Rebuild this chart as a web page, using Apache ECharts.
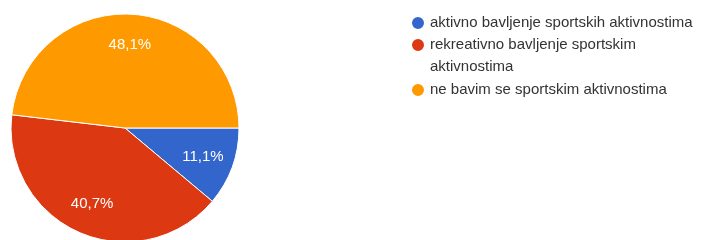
<!DOCTYPE html>
<html>
<head>
<meta charset="utf-8">
<script src="https://cdn.jsdelivr.net/npm/echarts@6/dist/echarts.min.js"></script>
<style>
  html, body { margin: 0; padding: 0; background: #fff; }
  #chart { width: 702px; height: 240px; }
</style>
</head>
<body>
<div id="chart"></div>
<script>
// odgovori iz ankete (broj ispitanika)
const categories = [
  'aktivno bavljenje sportskih aktivnostima',
  'rekreativno bavljenje sportskim aktivnostima',
  'ne bavim se sportskim aktivnostima',
];
const counts = [3, 11, 13];
const colors = ['#3366cc', '#dc3912', '#ff9900'];

const FONT = 'Liberation Sans, Arial, sans-serif';
const pieData = categories.map((name, i) => ({ name, value: counts[i] }));

const legendBase = {
  orient: 'vertical', left: 410, padding: 0,
  icon: 'circle', itemWidth: 14, itemHeight: 14,
  selectedMode: false,
  textStyle: { fontFamily: FONT, fontSize: 15, color: '#333', lineHeight: 22 },
};

const chart = echarts.init(document.getElementById('chart'));
chart.setOption({
  animation: false,
  color: colors,
  legend: [
    { ...legendBase, top: 12, data: [categories[0]] },
    {
      // prazan prvi red da prvi redak teksta stoji uz kružić
      ...legendBase, top: 12, data: [categories[1]],
      formatter: '\nrekreativno bavljenje sportskim\naktivnostima',
    },
    { ...legendBase, top: 79, data: [categories[2]] },
  ],
  series: [
    {
      type: 'pie',
      center: [125, 128], radius: 114,
      startAngle: 0, clockwise: true,
      itemStyle: { borderColor: '#fff', borderWidth: 1 },
      label: { show: false }, labelLine: { show: false },
      emphasis: { disabled: true },
      data: pieData,
    },
    {
      // prozirni sloj samo za postotke (dalje od središta)
      type: 'pie', silent: true,
      center: [125, 128], radius: [46, 114],
      startAngle: 0, clockwise: true,
      itemStyle: { color: 'rgba(0,0,0,0)' },
      label: {
        show: true, position: 'inside',
        fontFamily: FONT, fontSize: 15, color: '#fff',
        formatter: p => p.percent.toFixed(1).replace('.', ',') + '%',
      },
      labelLine: { show: false },
      emphasis: { disabled: true },
      data: pieData,
    },
  ],
});
</script>
</body>
</html>
